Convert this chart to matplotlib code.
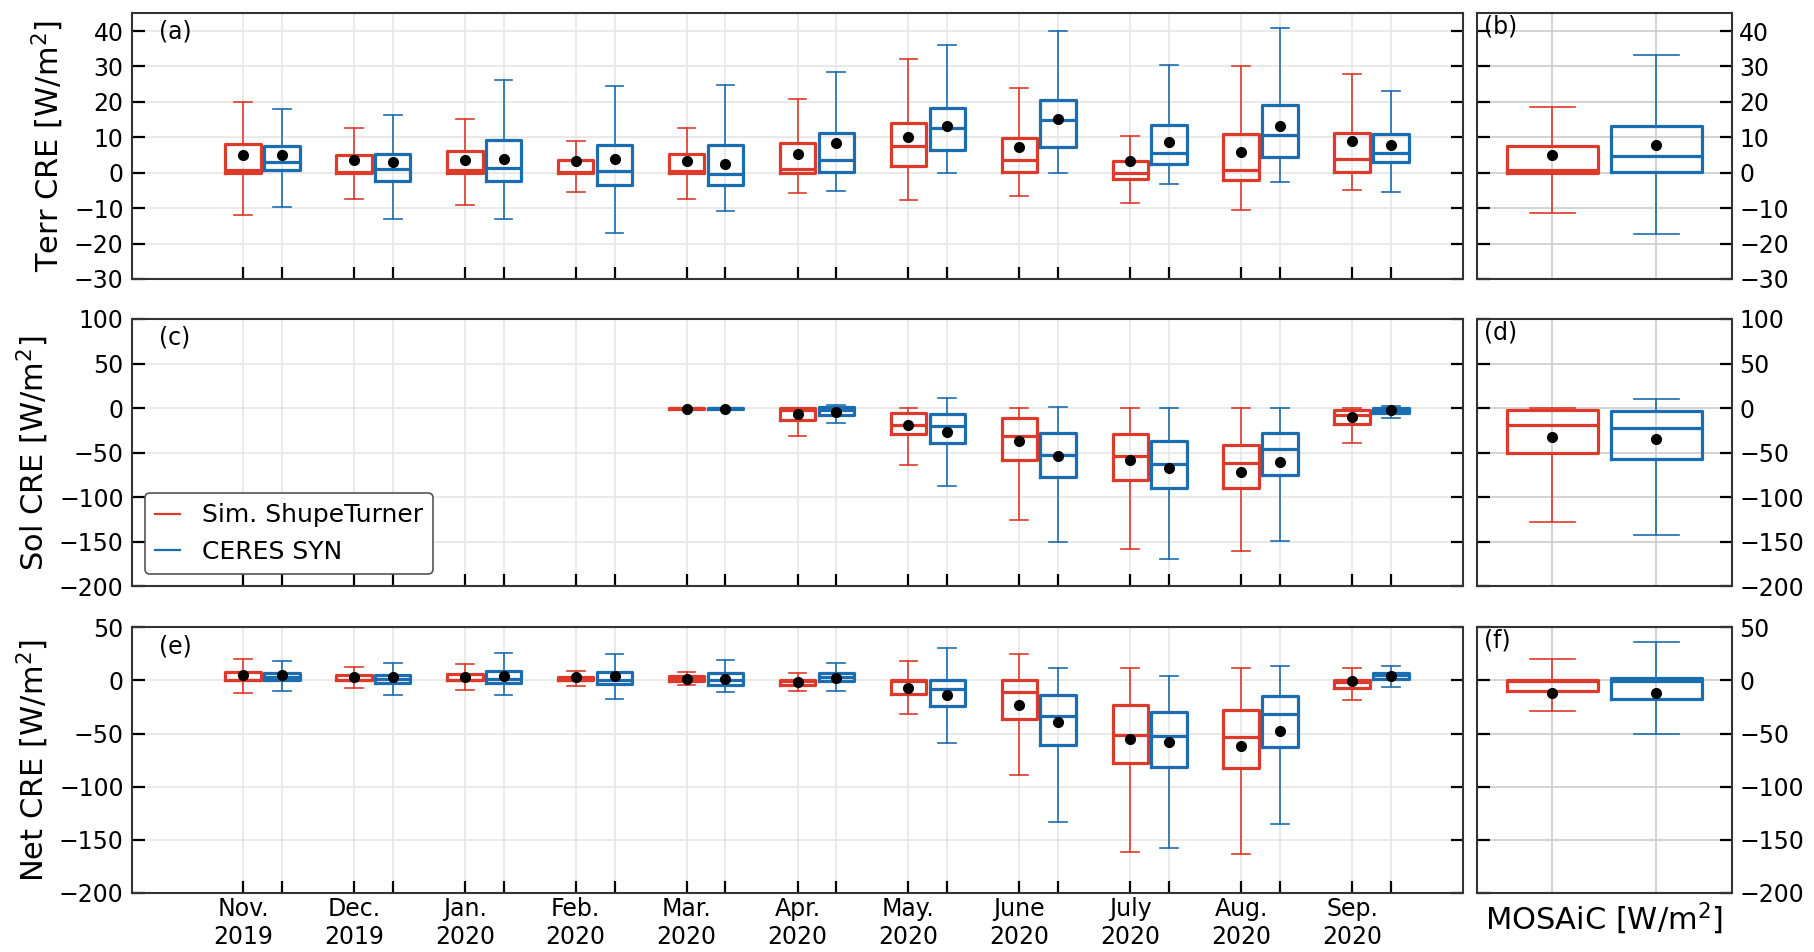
import numpy as np
import matplotlib
matplotlib.use("Agg")
import matplotlib.pyplot as plt
from matplotlib.lines import Line2D

nan = np.nan

months = ["Nov.\n2019", "Dec.\n2019", "Jan.\n2020", "Feb.\n2020", "Mar.\n2020", "Apr.\n2020",
          "May.\n2020", "June\n2020", "July\n2020", "Aug.\n2020", "Sep.\n2020"]
series_names = ["Sim. ShupeTurner", "CERES SYN"]
row_labels = ["Terr CRE [W/m$^2$]", "Sol CRE [W/m$^2$]", "Net CRE [W/m$^2$]"]
panel_left = ["(a)", "(c)", "(e)"]
panel_right = ["(b)", "(d)", "(f)"]

# ---- Terr CRE ----
terr_sim_whislo = [-11.9, -7.5, -9.2, -5.4, -7.3, -5.7, -7.8, -6.5, -8.6, -10.5, -4.8]
terr_sim_q1     = [0.0, 0.0, 0.0, 0.0, 0.0, -0.2, 1.9, 0.1, -1.8, -2.1, 0.2]
terr_sim_med    = [0.7, 0.2, 0.7, 0.2, 0.5, 1.1, 7.4, 3.5, 0.0, 0.7, 3.8]
terr_sim_q3     = [8.2, 4.9, 6.2, 3.5, 5.2, 8.4, 14.1, 9.8, 3.3, 10.8, 11.3]
terr_sim_whishi = [20.0, 12.5, 15.1, 8.9, 12.5, 20.8, 32.1, 24.0, 10.3, 30.2, 28.0]
terr_sim_mean   = [5.1, 3.7, 3.7, 3.2, 3.3, 5.4, 10.0, 7.3, 3.3, 5.9, 9.0]

terr_cer_whislo = [-9.7, -13.2, -13.2, -17.0, -10.8, -5.2, 0.0, 0.0, -3.2, -2.5, -5.4]
terr_cer_q1     = [0.7, -2.3, -2.3, -3.4, -3.6, 0.1, 6.4, 7.3, 2.5, 4.5, 2.9]
terr_cer_med    = [3.0, 1.1, 1.4, 0.5, -0.3, 3.5, 12.5, 14.8, 5.7, 10.6, 5.7]
terr_cer_q3     = [7.5, 5.4, 9.2, 7.9, 7.9, 11.3, 18.4, 20.6, 13.6, 19.2, 10.8]
terr_cer_whishi = [18.1, 16.4, 26.1, 24.5, 24.8, 28.3, 36.1, 39.9, 30.5, 40.9, 23.0]
terr_cer_mean   = [5.1, 3.0, 4.0, 4.0, 2.5, 8.4, 13.2, 15.2, 8.7, 13.2, 7.8]

# ---- Sol CRE ----
sol_sim_whislo = [nan, nan, nan, nan, -1.0, -31.7, -63.8, -125.4, -157.5, -160.8, -39.2]
sol_sim_q1     = [nan, nan, nan, nan, -0.5, -13.0, -28.7, -57.8, -80.2, -89.9, -18.3]
sol_sim_med    = [nan, nan, nan, nan, 0.0, -2.6, -18.7, -31.7, -54.1, -61.6, -8.2]
sol_sim_q3     = [nan, nan, nan, nan, 0.0, 0.0, -5.2, -11.2, -28.7, -41.4, -1.9]
sol_sim_whishi = [nan, nan, nan, nan, 0.0, 0.0, 0.0, 0.0, 0.0, 0.0, 0.0]
sol_sim_mean   = [nan, nan, nan, nan, -0.5, -7.0, -18.7, -37.3, -58.2, -71.3, -10.4]

sol_cer_whislo = [nan, nan, nan, nan, -1.5, -16.8, -87.3, -150.0, -169.0, -148.9, -11.6]
sol_cer_q1     = [nan, nan, nan, nan, -1.0, -8.2, -39.6, -76.9, -89.9, -75.4, -5.6]
sol_cer_med    = [nan, nan, nan, nan, 0.0, -2.6, -20.5, -53.0, -62.3, -45.9, -2.6]
sol_cer_q3     = [nan, nan, nan, nan, 0.5, 1.0, -7.1, -27.6, -37.3, -27.6, 0.4]
sol_cer_whishi = [nan, nan, nan, nan, 0.5, 3.4, 10.8, 1.0, 0.0, 0.0, 1.9]
sol_cer_mean   = [nan, nan, nan, nan, -0.5, -4.9, -26.5, -54.1, -67.2, -60.4, -2.6]

# ---- Net CRE ----
net_sim_whislo = [-11.9, -7.5, -9.2, -5.4, -4.7, -10.0, -31.3, -89.4, -161.6, -163.4, -18.8]
net_sim_q1     = [0.0, 0.0, 0.0, 0.0, -0.6, -3.8, -12.8, -35.9, -78.1, -82.2, -7.5]
net_sim_med    = [0.7, 0.2, 0.7, 0.2, 1.6, -0.9, -0.5, -11.3, -50.9, -53.4, -1.5]
net_sim_q3     = [8.2, 4.9, 6.2, 3.5, 4.0, 0.9, 0.0, 0.0, -22.8, -27.8, 0.6]
net_sim_whishi = [20.0, 12.5, 15.1, 8.9, 7.8, 7.2, 18.4, 25.0, 11.6, 12.2, 12.2]
net_sim_mean   = [5.1, 3.7, 3.7, 3.2, 1.6, -1.6, -6.6, -23.4, -55.3, -61.9, -0.9]

net_cer_whislo = [-9.7, -13.2, -13.2, -17.0, -10.9, -9.7, -59.1, -132.8, -157.8, -134.7, -6.3]
net_cer_q1     = [0.7, -2.3, -2.3, -3.4, -3.8, -0.6, -24.1, -60.9, -81.3, -62.5, 1.6]
net_cer_med    = [3.0, 1.1, 1.4, 0.5, 0.0, 3.1, -8.1, -33.8, -52.5, -31.6, 5.3]
net_cer_q3     = [7.5, 5.4, 9.2, 7.9, 6.6, 6.9, 0.0, -13.8, -29.4, -14.7, 7.2]
net_cer_whishi = [18.1, 16.4, 26.1, 24.5, 19.4, 16.3, 30.3, 12.2, 4.4, 14.1, 14.1]
net_cer_mean   = [5.1, 3.0, 4.0, 4.0, 1.6, 2.5, -13.8, -39.4, -58.1, -47.5, 4.1]

# ---- MOSAiC (whole campaign): whislo, q1, med, q3, whishi, mean ----
mosaic_terr_sim = [-11.5, 0.0, 0.9, 7.4, 18.5, 5.0]
mosaic_terr_cer = [-17.2, 0.2, 4.8, 13.2, 33.1, 7.7]
mosaic_sol_sim  = [-127.4, -50.7, -19.2, -2.0, 0.0, -32.9]
mosaic_sol_cer  = [-141.8, -56.8, -22.6, -3.4, 10.3, -34.9]
mosaic_net_sim  = [-29.0, -10.2, -0.5, 0.0, 19.9, -11.9]
mosaic_net_cer  = [-50.0, -17.6, -0.6, 2.8, 35.8, -11.9]

ylims = [(-30, 45), (-200, 100), (-200, 50)]
yticks = [np.arange(-30, 41, 10), np.arange(-200, 101, 50), np.arange(-200, 51, 50)]

RED = "#dc3a2a"
BLUE = "#1c6db0"
colors = [RED, BLUE]

monthly = [
    [(terr_sim_whislo, terr_sim_q1, terr_sim_med, terr_sim_q3, terr_sim_whishi, terr_sim_mean),
     (terr_cer_whislo, terr_cer_q1, terr_cer_med, terr_cer_q3, terr_cer_whishi, terr_cer_mean)],
    [(sol_sim_whislo, sol_sim_q1, sol_sim_med, sol_sim_q3, sol_sim_whishi, sol_sim_mean),
     (sol_cer_whislo, sol_cer_q1, sol_cer_med, sol_cer_q3, sol_cer_whishi, sol_cer_mean)],
    [(net_sim_whislo, net_sim_q1, net_sim_med, net_sim_q3, net_sim_whishi, net_sim_mean),
     (net_cer_whislo, net_cer_q1, net_cer_med, net_cer_q3, net_cer_whishi, net_cer_mean)],
]
mosaic = [[mosaic_terr_sim, mosaic_terr_cer], [mosaic_sol_sim, mosaic_sol_cer],
          [mosaic_net_sim, mosaic_net_cer]]


def stat(wl, q1, md, q3, wh, mn):
    return dict(whislo=wl, q1=q1, med=md, q3=q3, whishi=wh, mean=mn, fliers=[])


def draw(ax, stats, pos, width, color):
    ax.bxp(stats, positions=pos, widths=width, showmeans=True, showfliers=False,
           boxprops=dict(color=color, lw=2.3),
           medianprops=dict(color=color, lw=2.3),
           whiskerprops=dict(color=color, lw=1.2),
           capprops=dict(color=color, lw=1.2),
           meanprops=dict(marker="o", markerfacecolor="black", markeredgecolor="black",
                          markersize=7),
           manage_ticks=False)


plt.rcParams["font.family"] = ["DejaVu Sans"]
fig = plt.figure(figsize=(18.14, 9.52), dpi=100)

bottoms = [0.707, 0.384, 0.062]
heights = [0.279, 0.281, 0.279]
L0, W0 = 0.0728, 0.7337
L1, W1 = 0.814, 0.141

nm = len(months)
xi = np.arange(nm)
off = 0.175
spine_col = "#333333"

for r in range(3):
    axl = fig.add_axes([L0, bottoms[r], W0, heights[r]])
    axr = fig.add_axes([L1, bottoms[r], W1, heights[r]])

    for s in range(2):
        arrs = monthly[r][s]
        stats, pos = [], []
        for i in range(nm):
            vals = [a[i] for a in arrs]
            if np.isnan(vals[0]):
                continue
            stats.append(stat(*vals))
            pos.append(xi[i] + (-off if s == 0 else off))
        draw(axl, stats, pos, 0.32, colors[s])
        draw(axr, [stat(*mosaic[r][s])], [1 + s], 0.87, colors[s])

    # left axes formatting
    tick_pos = np.sort(np.concatenate([xi - off, xi + off]))
    axl.set_xticks(tick_pos)
    if r == 2:
        labs = []
        for i in range(nm):
            labs += [months[i], ""]
        axl.set_xticklabels(labs, fontsize=19)
    else:
        axl.set_xticklabels([""] * len(tick_pos))
    axl.set_xlim(-1.175, 10.825)
    axl.set_ylim(*ylims[r])
    axl.set_yticks(yticks[r])
    axl.tick_params(axis="both", direction="in", length=9, width=1.6, labelsize=17,
                    left=True, right=True, bottom=True, top=False, pad=6)
    axl.tick_params(axis="x", pad=3)
    axl.grid(True, color="#e6e6e6", lw=1.2)
    axl.set_axisbelow(True)
    axl.set_ylabel(row_labels[r], fontsize=22, labelpad=6)
    axl.text(0.02, 0.975, panel_left[r], transform=axl.transAxes, fontsize=17,
             va="top", ha="left")
    for sp in axl.spines.values():
        sp.set_color(spine_col)
        sp.set_linewidth(1.5)

    # right axes formatting
    axr.set_xlim(0.27, 2.73)
    axr.set_xticks([1, 2])
    axr.set_xticklabels(["", ""])
    axr.set_ylim(*ylims[r])
    axr.set_yticks(yticks[r])
    axr.tick_params(axis="y", direction="in", length=9, width=1.6, labelsize=17,
                    left=True, right=True, labelleft=False, labelright=True, pad=5)
    axr.tick_params(axis="x", length=0)
    axr.grid(True, color="#cccccc", lw=1.2)
    axr.set_axisbelow(True)
    axr.text(0.03, 0.995, panel_right[r], transform=axr.transAxes, fontsize=17,
             va="top", ha="left")
    for sp in axr.spines.values():
        sp.set_color(spine_col)
        sp.set_linewidth(1.5)
    if r == 2:
        axr.set_xlabel("MOSAiC [W/m$^2$]", fontsize=22, labelpad=2)

    if r == 1:
        handles = [Line2D([0], [0], color=c, lw=1.6) for c in colors]
        leg = axl.legend(handles, series_names, loc="lower left", fontsize=18,
                         handlelength=1.0, handletextpad=0.9, framealpha=1,
                         edgecolor="#555555", fancybox=True)
        leg.get_frame().set_linewidth(1.2)

fig.savefig("out.png", dpi=100)
